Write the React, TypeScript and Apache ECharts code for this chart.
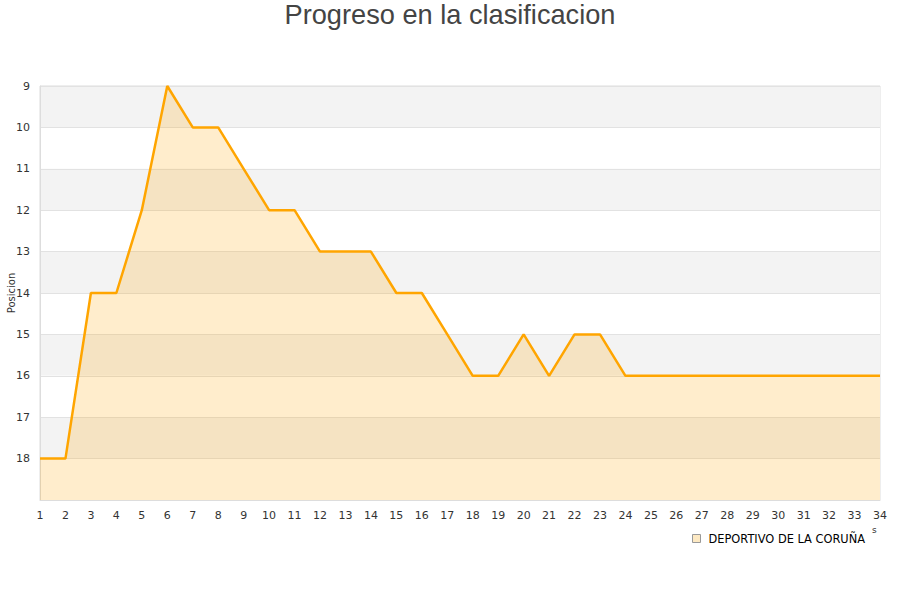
import React, { useEffect, useRef } from "react";
import * as echarts from "echarts";

const jornadas = ["1","2","3","4","5","6","7","8","9","10","11","12","13","14","15","16","17","18","19","20","21","22","23","24","25","26","27","28","29","30","31","32","33","34"];
const posiciones = [18,18,14,14,12,9,10,10,11,12,12,13,13,13,14,14,15,16,16,15,16,15,15,16,16,16,16,16,16,16,16,16,16,16];
const teamName = "DEPORTIVO DE LA CORUÑA";
const titleText = "Progreso en la clasificacion";
const yAxisName = "Posicion";

export default function App() {
  const ref = useRef<HTMLDivElement>(null);
  useEffect(() => {
    if (!ref.current) return;
    const chart = echarts.init(ref.current, null, { renderer: "svg" });
    chart.setOption({
      animation: false,
      backgroundColor: "#ffffff",
      title: {
        text: titleText,
        left: "center",
        top: -4,
        textStyle: { fontFamily: "Liberation Sans, Arial, sans-serif", fontSize: 27.2, fontWeight: "normal", color: "#444" },
      },
      legend: {
        data: [{ name: teamName, icon: "rect", itemStyle: { color: "#fde9c3", borderColor: "#999", borderWidth: 1 } }],
        left: 687,
        top: 528,
        itemWidth: 8,
        itemHeight: 8,
        itemGap: 6,
        textStyle: { fontFamily: "DejaVu Sans, sans-serif", fontSize: 11.4, color: "#000", padding: [0, 0, 0, 3] },
      },
      grid: { left: 40, right: 20, top: 86, bottom: 100, show: true, borderColor: "#dddddd", borderWidth: 1, backgroundColor: "transparent", outerBoundsMode: "none", containLabel: false },
      xAxis: {
        type: "category",
        data: jornadas,
        boundaryGap: false,
        axisLine: { show: true, lineStyle: { color: "#dddddd" } },
        axisTick: { show: false },
        axisLabel: { color: "#333", fontSize: 11, fontFamily: "DejaVu Sans, sans-serif", margin: 10, interval: 0 },
        splitLine: { show: false },
      },
      yAxis: {
        type: "value",
        inverse: true,
        min: 9,
        max: 19,
        interval: 1,
        name: yAxisName,
        nameLocation: "middle",
        nameGap: 24,
        nameMoveOverlap: false,
        nameTextStyle: { color: "#333", fontSize: 10, fontFamily: "DejaVu Sans, sans-serif" },
        axisLine: { show: true, lineStyle: { color: "#dddddd" } },
        axisTick: { show: false },
        axisLabel: {
          color: "#333",
          fontSize: 11,
          fontFamily: "DejaVu Sans, sans-serif",
          margin: 10,
          formatter: (v: number) => (v === 19 ? "" : String(v)),
        },
        splitLine: { show: true, lineStyle: { color: "#e2e2e2" } },
        splitArea: { show: true, areaStyle: { color: ["#f3f3f3", "#ffffff"] } },
      },
      graphic: [
        { type: "text", left: 872, top: 525, style: { text: "s", fontSize: 9, fill: "#333", fontFamily: "DejaVu Sans, sans-serif" } },
      ],
      series: [
        {
          name: teamName,
          type: "line",
          data: posiciones,
          symbol: "none",
          lineStyle: { color: "#ffa500", width: 2.5 },
          itemStyle: { color: "#ffa500" },
          areaStyle: { color: "#ffa500", opacity: 0.2, origin: "end" },
        },
      ],
    });
    return () => chart.dispose();
  }, []);
  return <div ref={ref} style={{ width: 900, height: 600, position: "absolute", left: 0, top: 0 }} />;
}
